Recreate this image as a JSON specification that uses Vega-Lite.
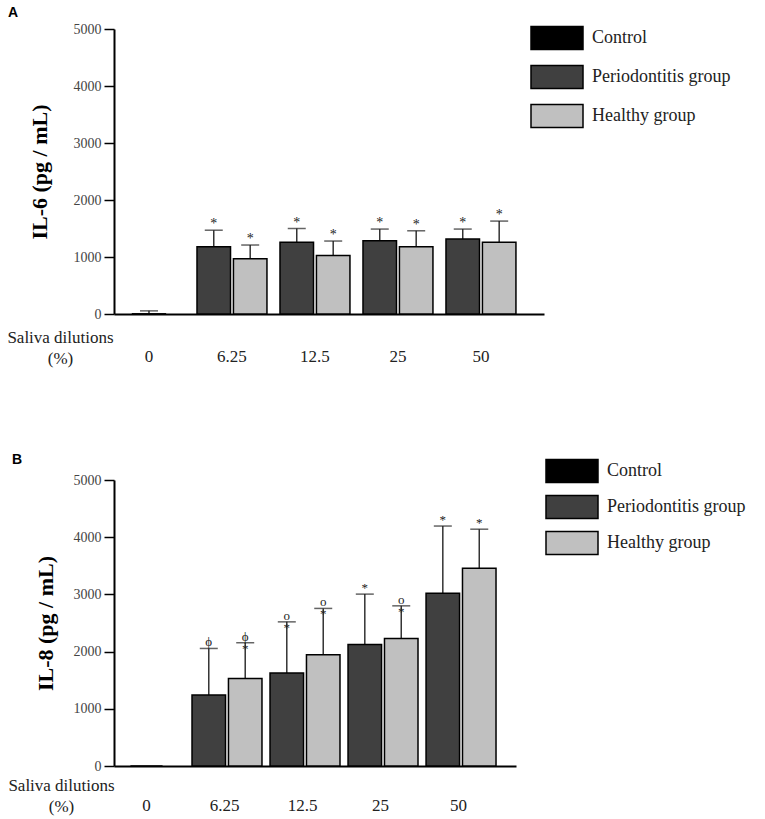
{
  "$schema": "https://vega.github.io/schema/vega-lite/v6.json",
  "padding": {"left": 6, "top": 6, "right": 5, "bottom": 5},
  "datasets": {
    "il6": [
      {"dilution": "0", "group": "Control", "value": 5, "upper": 55, "label": ""},
      {"dilution": "6.25", "group": "Periodontitis group", "value": 1180, "upper": 1470, "label": "*"},
      {"dilution": "6.25", "group": "Healthy group", "value": 970, "upper": 1210, "label": "*"},
      {"dilution": "12.5", "group": "Periodontitis group", "value": 1260, "upper": 1500, "label": "*"},
      {"dilution": "12.5", "group": "Healthy group", "value": 1025, "upper": 1280, "label": "*"},
      {"dilution": "25", "group": "Periodontitis group", "value": 1285, "upper": 1490, "label": "*"},
      {"dilution": "25", "group": "Healthy group", "value": 1180, "upper": 1460, "label": "*"},
      {"dilution": "50", "group": "Periodontitis group", "value": 1315, "upper": 1490, "label": "*"},
      {"dilution": "50", "group": "Healthy group", "value": 1260, "upper": 1630, "label": "*"}
    ],
    "il8": [
      {"dilution": "0", "group": "Control", "value": 0, "upper": 0, "label": ""},
      {"dilution": "6.25", "group": "Periodontitis group", "value": 1240, "upper": 2055, "label": "ϕ"},
      {"dilution": "6.25", "group": "Healthy group", "value": 1530, "upper": 2155, "label": "ϕ\n*"},
      {"dilution": "12.5", "group": "Periodontitis group", "value": 1625, "upper": 2520, "label": "ο\n*"},
      {"dilution": "12.5", "group": "Healthy group", "value": 1945, "upper": 2755, "label": "ο\n*"},
      {"dilution": "25", "group": "Periodontitis group", "value": 2125, "upper": 3005, "label": "*"},
      {"dilution": "25", "group": "Healthy group", "value": 2230, "upper": 2800, "label": "ο\n*"},
      {"dilution": "50", "group": "Periodontitis group", "value": 3020, "upper": 4195, "label": "*"},
      {"dilution": "50", "group": "Healthy group", "value": 3455, "upper": 4140, "label": "*"}
    ]
  },
  "vconcat": [
    {
      "title": {"text": "A", "anchor": "start", "frame": "group", "dx": -106, "offset": 2},
      "width": 430,
      "height": 285,
      "data": {"name": "il6"},
      "encoding": {
        "x": {
          "field": "dilution", "type": "nominal", "sort": null,
          "scale": {"domain": ["0", "6.25", "12.5", "25", "50"], "paddingInner": 0.157, "paddingOuter": 0.169, "align": 0},
          "axis": {"title": ["Saliva dilutions", "(%)"], "titleX": -54, "titleY": 28, "labelPadding": 34}
        },
        "y": {
          "field": "value", "type": "quantitative",
          "scale": {"domain": [0, 5000], "nice": false},
          "axis": {"title": "IL-6 (pg / mL)", "titlePadding": 22, "values": [0, 1000, 2000, 3000, 4000, 5000], "format": "d"}
        }
      },
      "layer": [
        {
          "transform": [{"filter": "datum.group != 'Control'"}],
          "encoding": {
            "xOffset": {"field": "group", "type": "nominal", "sort": null, "scale": {"domain": ["Periodontitis group", "Healthy group"], "paddingInner": 0.08}}
          },
          "layer": [
            {"mark": {"type": "rule", "color": "#333", "strokeWidth": 1.5}, "encoding": {"y2": {"field": "upper"}}},
            {
              "mark": {"type": "bar", "stroke": "black", "strokeWidth": 1.5},
              "encoding": {"fill": {"field": "group", "type": "nominal", "scale": {"domain": ["Control", "Periodontitis group", "Healthy group"], "range": ["#000000", "#404040", "#c0c0c0"]}}}
            },
            {"mark": {"type": "tick", "color": "#222", "size": 18, "thickness": 1.5}, "encoding": {"y": {"field": "upper", "type": "quantitative"}}},
            {
              "mark": {"type": "text", "font": "Liberation Serif", "fontSize": 14, "baseline": "bottom", "lineBreak": "\n", "lineHeight": 12, "dy": 1, "fill": "#222"},
              "encoding": {"y": {"field": "upper", "type": "quantitative"}, "text": {"field": "label"}}
            }
          ]
        },
        {
          "transform": [{"filter": "datum.group == 'Control'"}],
          "layer": [
            {"mark": {"type": "rule", "color": "#333", "strokeWidth": 1.5}, "encoding": {"y2": {"field": "upper"}}},
            {"mark": {"type": "bar", "width": 34, "stroke": "black", "strokeWidth": 1}, "encoding": {"fill": {"field": "group", "type": "nominal"}}},
            {"mark": {"type": "tick", "color": "#222", "size": 18, "thickness": 1.5}, "encoding": {"y": {"field": "upper", "type": "quantitative"}}}
          ]
        }
      ]
    },
    {
      "title": {"text": "B", "anchor": "start", "frame": "group", "dx": -102, "offset": -7},
      "width": 402,
      "height": 286,
      "data": {"name": "il8"},
      "encoding": {
        "x": {
          "field": "dilution", "type": "nominal", "sort": null,
          "scale": {"domain": ["0", "6.25", "12.5", "25", "50"], "paddingInner": 0.167, "paddingOuter": 0.16, "align": 0},
          "axis": {"title": ["Saliva dilutions", "(%)"], "titleX": -53, "titleY": 24, "labelPadding": 31}
        },
        "y": {
          "field": "value", "type": "quantitative",
          "scale": {"domain": [0, 5000], "nice": false},
          "axis": {"title": "IL-8 (pg / mL)", "titlePadding": 16, "values": [0, 1000, 2000, 3000, 4000, 5000], "format": "d"}
        }
      },
      "layer": [
        {
          "transform": [{"filter": "datum.group != 'Control'"}],
          "encoding": {
            "xOffset": {"field": "group", "type": "nominal", "sort": null, "scale": {"domain": ["Periodontitis group", "Healthy group"], "paddingInner": 0.08}}
          },
          "layer": [
            {"mark": {"type": "rule", "color": "#333", "strokeWidth": 1.5}, "encoding": {"y2": {"field": "upper"}}},
            {
              "mark": {"type": "bar", "stroke": "black", "strokeWidth": 1.5},
              "encoding": {"fill": {"field": "group", "type": "nominal", "scale": {"domain": ["Control", "Periodontitis group", "Healthy group"], "range": ["#000000", "#404040", "#c0c0c0"]}, "legend": {"legendX": 447, "legendY": -20, "rowPadding": 6}}}
            },
            {"mark": {"type": "tick", "color": "#222", "size": 18, "thickness": 1.5}, "encoding": {"y": {"field": "upper", "type": "quantitative"}}},
            {
              "mark": {"type": "text", "font": "Liberation Serif", "fontSize": 13, "baseline": "bottom", "lineBreak": "\n", "lineHeight": 12, "dy": 1, "fill": "#222"},
              "encoding": {"y": {"field": "upper", "type": "quantitative"}, "text": {"field": "label"}}
            }
          ]
        },
        {
          "transform": [{"filter": "datum.group == 'Control'"}],
          "layer": [
            {"mark": {"type": "bar", "width": 32, "stroke": "black", "strokeWidth": 1}, "encoding": {"fill": {"field": "group", "type": "nominal"}}}
          ]
        }
      ]
    }
  ],
  "spacing": 87,
  "resolve": {"scale": {"fill": "independent"}, "legend": {"fill": "independent"}},
  "config": {
    "view": {"stroke": null},
    "title": {"font": "Liberation Sans", "fontSize": 14, "fontWeight": "bold", "color": "black"},
    "axisX": {
      "ticks": false, "domainColor": "black", "domainWidth": 2, "labelAngle": 0,
      "labelFont": "Liberation Serif", "labelFontSize": 17, "labelColor": "#222",
      "titleFont": "Liberation Serif", "titleFontSize": 17, "titleFontWeight": "normal", "titleColor": "#222",
      "titleAlign": "center", "titleBaseline": "alphabetic", "titleLineHeight": 21
    },
    "axisY": {
      "grid": false,
      "domainColor": "black", "domainWidth": 2, "tickColor": "black", "tickWidth": 1.5, "tickSize": 10,
      "labelFont": "Liberation Serif", "labelFontSize": 14, "labelColor": "#444", "labelPadding": 3,
      "titleFont": "Liberation Serif", "titleFontSize": 22, "titleFontWeight": "bold", "titleColor": "black"
    },
    "legend": {
      "orient": "none", "legendX": 432, "legendY": -2, "title": null,
      "symbolType": "M-2.6,-1.15H2.6V1.15H-2.6Z", "symbolSize": 400, "symbolStrokeColor": "black", "symbolStrokeWidth": 1.5,
      "labelFont": "Liberation Serif", "labelFontSize": 18, "labelColor": "#222", "labelOffset": 24, "rowPadding": 9
    }
  }
}
